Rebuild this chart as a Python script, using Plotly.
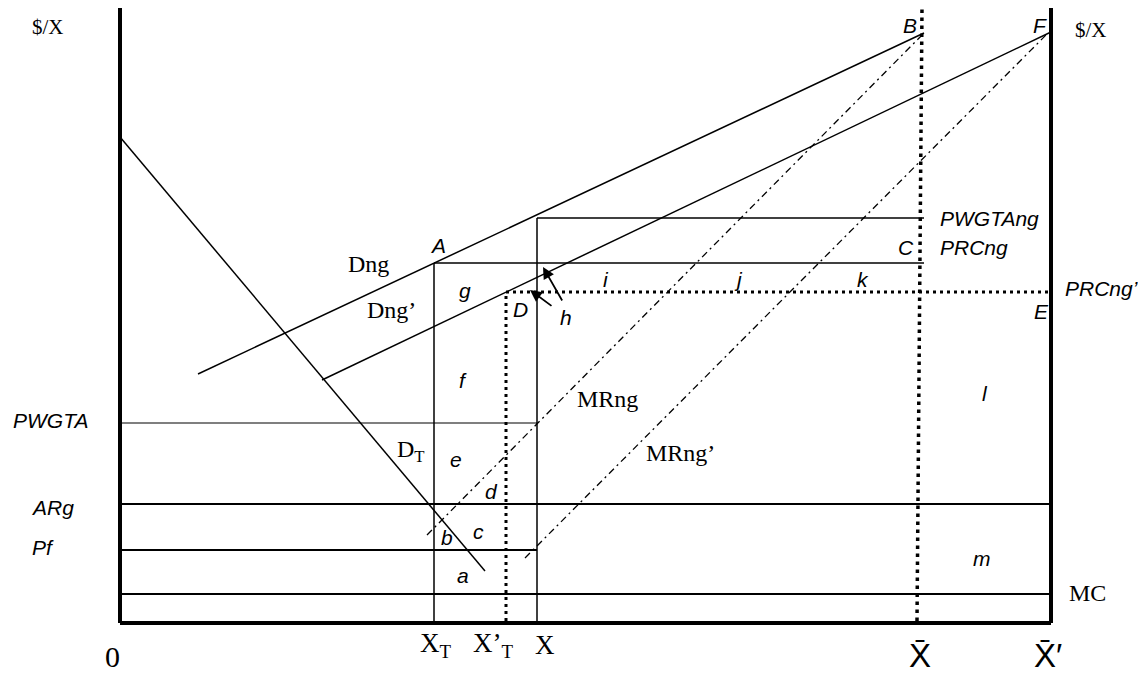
import plotly.graph_objects as go

# ---- data (diagram units: x to the right of the origin, y up from the origin) ----
# price levels
MC = 29
PF = 73
ARG = 119
PWGTA = 200
PRCNG_P = 331
PRCNG = 360
PWGTANG = 405
TOP = 615
# quantities
XT = 314
XPT = 386
XQ = 417
XBAR_TOP = 802
XBAR_BOT = 797
XBAR_P = 931
# curve end points
DNG_X = [78, 804]
DNG_Y = [249, 590]
DNGP_X = [202, 931]
DNGP_Y = [243, 591]
MRNG_X = [307, 804]
MRNG_Y = [88, 590]
MRNGP_X = [405, 926]
MRNGP_Y = [65, 588]
DT_X = [0, 365]
DT_Y = [486, 52]

SERIF = "Liberation Serif, Times New Roman, serif"
NARROW = "Liberation Sans Narrow, Arial Narrow, Liberation Sans, sans-serif"
SANS = "Liberation Sans, Arial, sans-serif"
NS = 21  # size of italic sans labels
SS = 24  # size of serif labels

fig = go.Figure()


def seg(xs, ys, width=1.5, dash="solid"):
    fig.add_trace(go.Scatter(x=xs, y=ys, mode="lines",
                             line=dict(color="black", width=width, dash=dash),
                             hoverinfo="skip", showlegend=False))


# axes
seg([0, 0], [0, TOP], width=4)
seg([0, XBAR_P], [0, 0], width=4)
seg([XBAR_P, XBAR_P], [0, TOP], width=4)

# horizontal price lines
seg([0, XBAR_P], [MC, MC], width=2)
seg([0, XQ], [PF, PF], width=2)
seg([0, XBAR_P], [ARG, ARG], width=2)
seg([0, XQ], [PWGTA, PWGTA], width=1.2)
seg([XT, XBAR_TOP + 2], [PRCNG, PRCNG], width=1.5)
seg([XQ, XBAR_TOP + 2], [PWGTANG, PWGTANG], width=1.5)
seg([XPT, XBAR_P], [PRCNG_P, PRCNG_P], width=3, dash="3px,4px")

# vertical quantity lines
seg([XT, XT], [0, PRCNG], width=1.5)
seg([XQ, XQ], [2, PWGTANG], width=1.5)
seg([XPT, XPT], [2, PRCNG_P], width=3, dash="3px,4px")
seg([XBAR_BOT, XBAR_TOP], [2, TOP], width=3.5, dash="3.5px,4.5px")

# demand and marginal revenue curves
seg(DNG_X, DNG_Y, width=1.5)
seg(DNGP_X, DNGP_Y, width=1.5)
seg(DT_X, DT_Y, width=1.5)
seg(MRNG_X, MRNG_Y, width=1.3, dash="7px,4px,2px,4px")
seg(MRNGP_X, MRNGP_Y, width=1.3, dash="7px,4px,2px,4px")

ann = []


def txt(x, y, s, family, size, italic=False, xanchor="center"):
    ann.append(dict(x=x, y=y, xref="x", yref="y", text=s, showarrow=False,
                    xanchor=xanchor, yanchor="middle",
                    font=dict(family=family, size=size, color="black",
                              style="italic" if italic else "normal")))


# axis titles
txt(-72, 596, "$/X", SERIF, 21)
txt(971, 593, "$/X", SERIF, 21)
txt(-8, -33, "0", SERIF, 30)

# left price labels
txt(-70, 203, "PWGTA", NARROW, NS, True)
txt(-68, 116, "ARg", NARROW, NS, True)
txt(-77, 76, "Pf", NARROW, NS, True)
txt(967, 30, "MC", SERIF, SS)

# right labels
txt(818, 405, "PWGTAng", NARROW, NS, True, xanchor="left")
txt(818, 376, "PRCng", NARROW, NS, True, xanchor="left")
txt(943, 335, "PRCng’", NARROW, NS, True, xanchor="left")

# points
txt(318, 378, "A", NARROW, NS, True)
txt(790, 598, "B", NARROW, NS, True)
txt(920, 598, "F", NARROW, NS, True)
txt(786, 376, "C", NARROW, NS, True)
txt(400, 314, "D", NARROW, NS, True)
txt(921, 312, "E", NARROW, NS, True)

# curve labels
txt(248, 359, "Dng", SERIF, SS)
txt(271, 313, "Dng’", SERIF, SS)
txt(487, 224, "MRng", SERIF, SS)
txt(560, 170, "MRng’", SERIF, SS)
txt(291, 172, "D<sub>T</sub>", SERIF, SS)

# area labels
txt(345, 333, "g", NARROW, NS, True)
txt(343, 243, "f", NARROW, NS, True)
txt(336, 164, "e", NARROW, NS, True)
txt(371, 132, "d", NARROW, NS, True)
txt(358, 92, "c", NARROW, NS, True)
txt(327, 86, "b", NARROW, NS, True)
txt(343, 48, "a", NARROW, NS, True)
txt(446, 306, "h", NARROW, NS, True)
txt(486, 344, "i", NARROW, NS, True)
txt(618, 344, "j", NARROW, NS, True)
txt(743, 344, "k", NARROW, NS, True)
txt(865, 230, "l", NARROW, NS, True)
txt(862, 65, "m", NARROW, NS, True)

# quantity labels
txt(316, -22, "X<sub>T</sub>", SERIF, 27)
txt(373, -22, "X’<sub>T</sub>", SERIF, 27)
txt(425, -22, "X", SERIF, 27)
txt(800, -32, "X\u0304", SANS, 33)
txt(928, -32, "X\u0304′", SANS, 33)

# arrows for h
ann.append(dict(x=423, y=356, ax=443, ay=321, xref="x", yref="y", axref="x", ayref="y",
                text="", showarrow=True, arrowhead=2, arrowsize=1.3, arrowwidth=1.8,
                arrowcolor="black"))
ann.append(dict(x=410, y=333, ax=433, ay=316, xref="x", yref="y", axref="x", ayref="y",
                text="", showarrow=True, arrowhead=2, arrowsize=1.3, arrowwidth=1.8,
                arrowcolor="black"))

# the page adds an 8px body margin, so the figure is 8px smaller than the window
fig.update_layout(
    width=1138, height=667,
    margin=dict(l=0, r=0, t=0, b=0),
    paper_bgcolor="white", plot_bgcolor="white",
    xaxis=dict(range=[-112, 1026], visible=False, fixedrange=True),
    yaxis=dict(range=[-52, 615], visible=False, fixedrange=True),
    annotations=ann,
    showlegend=False,
)

fig.write_html("out.html")
